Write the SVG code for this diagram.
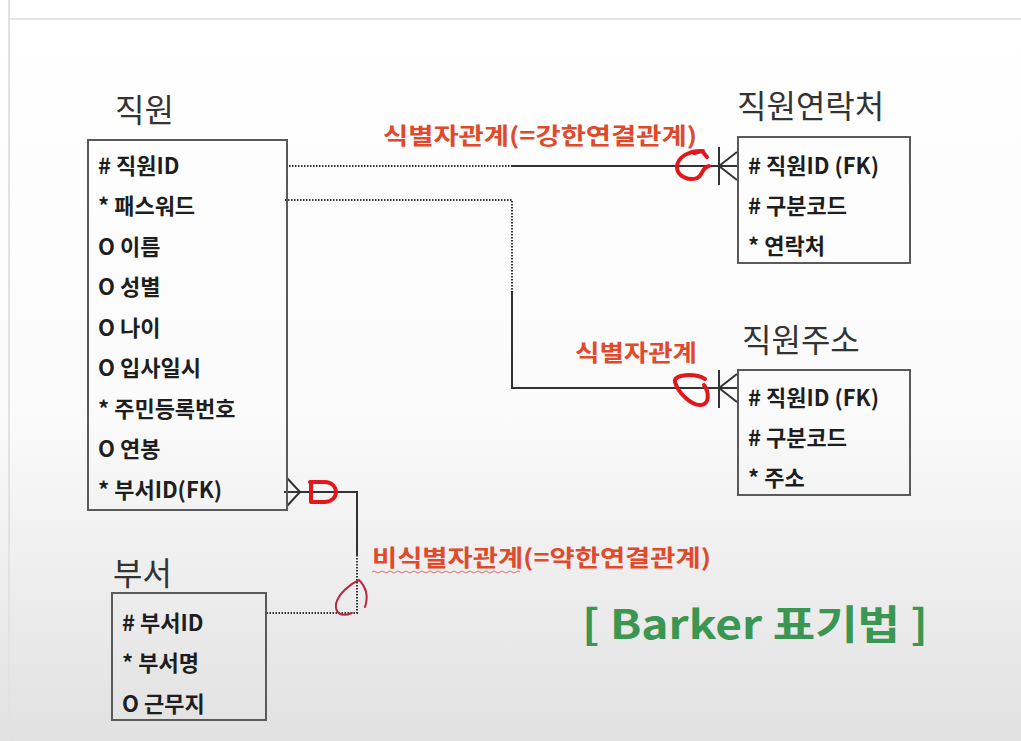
<svg xmlns="http://www.w3.org/2000/svg" width="1021" height="741" viewBox="0 0 1021 741">
<defs>
<linearGradient id="bg" x1="0" y1="0" x2="0" y2="1">
<stop offset="0" stop-color="#ffffff"/>
<stop offset="0.55" stop-color="#fbfbfb"/>
<stop offset="1" stop-color="#e1e1e1"/>
</linearGradient>
<style>
.box{fill:none;stroke:#5a5a5a;stroke-width:2}
.title{font-family:"Noto Sans CJK KR","Noto Sans",sans-serif;font-size:32px;fill:#333}
.row{font-family:"Noto Sans CJK KR","Noto Sans",sans-serif;font-size:22px;font-weight:bold;fill:#1e1e1e}
.solid{fill:none;stroke:#333;stroke-width:2}
.dot{fill:none;stroke:#333;stroke-width:2;stroke-dasharray:1.5 1.5}
.lbl{font-family:"Noto Sans CJK KR","Noto Sans",sans-serif;font-size:23px;font-weight:bold;fill:#e04a2c}
.red{fill:none;stroke:#e3171b;stroke-width:4;stroke-linecap:round;stroke-linejoin:round}
.maroon{fill:none;stroke:#b8283e;stroke-width:2;stroke-linecap:round}
</style>
</defs>
<rect x="0" y="0" width="1021" height="741" fill="url(#bg)"/>
<line x1="9" y1="0" x2="9" y2="741" stroke="#e2e2e2" stroke-width="2"/>
<line x1="10" y1="19" x2="1021" y2="19" stroke="#e6e6e6" stroke-width="2"/>

<g id="connectors">
<path class="dot" d="M289,166 H512"/>
<path class="solid" d="M512,166 H738"/>
<path class="solid" d="M719,147 V185 M719,166 L737,152 M719,166 L737,180"/>
<path class="dot" d="M285,200 H512 V292"/>
<path class="solid" d="M512,292 V388 H738"/>
<path class="solid" d="M719,370 V408 M719,388 L737,374 M719,388 L737,402"/>
<path class="solid" d="M284,492 H357 V555 M287,478 L300,492 L287,506"/>
<path class="dot" d="M357,555 V613 H266"/>
</g>

<g id="entity-employee">
<text class="title" x="115" y="122">직원</text>
<rect class="box" x="88" y="140" width="199" height="370"/>
<text class="row" x="98" y="174">#&#160;직원ID</text>
<text class="row" x="98" y="214">*&#160;패스워드</text>
<text class="row" x="98" y="255">O 이름</text>
<text class="row" x="98" y="295">O 성별</text>
<text class="row" x="98" y="336">O 나이</text>
<text class="row" x="98" y="376">O 입사일시</text>
<text class="row" x="98" y="417">*&#160;주민등록번호</text>
<text class="row" x="98" y="457">O 연봉</text>
<text class="row" x="98" y="498">*&#160;부서ID(FK)</text>
</g>

<g id="entity-contact">
<text class="title" x="737" y="118">직원연락처</text>
<rect class="box" x="738" y="137" width="172" height="126"/>
<text class="row" x="748" y="174">#&#160;직원ID (FK)</text>
<text class="row" x="748" y="214">#&#160;구분코드</text>
<text class="row" x="748" y="254">*&#160;연락처</text>
</g>

<g id="entity-address">
<text class="title" x="742" y="352">직원주소</text>
<rect class="box" x="738" y="370" width="172" height="125"/>
<text class="row" x="748" y="406">#&#160;직원ID (FK)</text>
<text class="row" x="748" y="446">#&#160;구분코드</text>
<text class="row" x="748" y="486">*&#160;주소</text>
</g>

<g id="entity-dept">
<text class="title" x="113" y="585">부서</text>
<rect class="box" x="112" y="593" width="154" height="127"/>
<text class="row" x="122" y="631">#&#160;부서ID</text>
<text class="row" x="122" y="671">*&#160;부서명</text>
<text class="row" x="122" y="712">O 근무지</text>
</g>

<g id="labels">
<text class="lbl" x="383" y="144" textLength="314" lengthAdjust="spacingAndGlyphs">식별자관계(=강한연결관계)</text>
<text class="lbl" x="575" y="361" textLength="122" lengthAdjust="spacingAndGlyphs">식별자관계</text>
<text class="lbl" x="372" y="566" textLength="339" lengthAdjust="spacingAndGlyphs">비식별자관계(=약한연결관계)</text>
<path d="M372,572 q2,-2 4,0 t4,0 t4,0 t4,0 t4,0 t4,0 t4,0 t4,0 t4,0 t4,0 t4,0 t4,0 t4,0 t4,0 t4,0 t4,0 t4,0 t4,0 t4,0 t4,0 t4,0 t4,0 t4,0 t4,0 t4,0 t4,0 t4,0 t4,0 t4,0 t4,0 t4,0 t4,0 t4,0 t4,0 t4,0 t4,0 t4,0" fill="none" stroke="#d87070" stroke-width="1"/>
<text x="582" y="639" textLength="346" lengthAdjust="spacingAndGlyphs" font-family="Noto Sans CJK KR, Noto Sans, sans-serif" font-size="40" font-weight="bold" fill="#3a9650">[ Barker 표기법 ]</text>
</g>

<g id="annotations">
<path class="red" d="M703,151 C690,150 677,157 677,167 C677,177 690,181 697,178 C703,176 701,168 709,166 M694,153 L702,151 L707,157"/>
<path class="red" d="M705,379 C695,373 673,374 675,382 C678,393 692,406 701,405 C710,404 709,392 704,385"/>
<path class="red" d="M311,482 V502 M310,482 H324 C333,482 336,488 336,492 C336,497 332,502 324,502 H312"/>
<path class="maroon" d="M365,607 C368,598 367,588 359,580 C350,584 338,594 336,604 C335,612 340,618 352,613"/>
</g>
</svg>
